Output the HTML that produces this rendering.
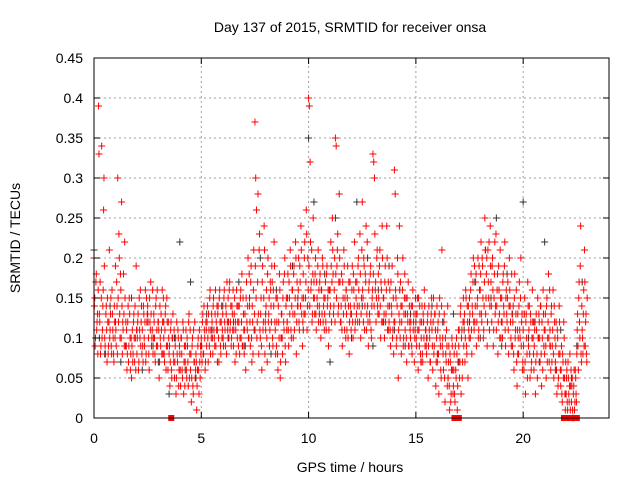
<!DOCTYPE html>
<html><head><meta charset="utf-8"><style>
body{margin:0;background:#fff;}
svg{display:block;font-family:"Liberation Sans",sans-serif;}
</style></head><body>
<svg id="chart" width="640" height="480">
<text x="350" y="32" text-anchor="middle" font-size="14">Day 137 of 2015, SRMTID for receiver onsa</text>
<text x="350" y="472" text-anchor="middle" font-size="14">GPS time / hours</text>
<text x="0" y="0" transform="translate(20,238) rotate(-90)" text-anchor="middle" font-size="14">SRMTID / TECUs</text>
<g id="grid"></g><g id="black"></g><g id="red"></g><g id="red2"></g><g id="axes"></g>
</svg>
<script>
const xTicks=[0,5,10,15,20];
const yTicks=[0,0.05,0.1,0.15,0.2,0.25,0.3,0.35,0.4,0.45];
const yTickLabels=["0","0.05","0.1","0.15","0.2","0.25","0.3","0.35","0.4","0.45"];
const redBinStart=[0,0.25,0.5,0.75,1,1.25,1.5,1.75,2,2.25,2.5,2.75,3,3.25,3.5,3.75,4,4.25,4.5,4.75,5,5.25,5.5,5.75,6,6.25,6.5,6.75,7,7.25,7.5,7.75,8,8.25,8.5,8.75,9,9.25,9.5,9.75,10,10.25,10.5,10.75,11,11.25,11.5,11.75,12,12.25,12.5,12.75,13,13.25,13.5,13.75,14,14.25,14.5,14.75,15,15.25,15.5,15.75,16,16.25,16.5,16.75,17,17.25,17.5,17.75,18,18.25,18.5,18.75,19,19.25,19.5,19.75,20,20.25,20.5,20.75,21,21.25,21.5,21.75,22,22.25,22.5,22.75];
const redVals=[[20,15,10,18,12,8,39],[13,17,9,34,11,16,30],[10,8,14,7,12,9,21],[11,15,8,13,10,7,12],[19,9,14,30,12,20,10],[16,27,8,11,13,22,9],[9,6,12,7,15,10,8],[5,11,8,13,7,10,19],[8,12,6,15,10,9,14],[11,7,13,9,16,8,12],[14,10,6,12,17,9,11],[8,13,10,7,15,11,9],[12,5,14,9,11,16,8],[10,7,13,6,15,9,12],[8,4,11,6,10,13,7],[5,9,3,12,7,10,6],[8,4,10,6,12,3,9],[7,11,5,9,4,13,8],[6,2,9,4,11,7,5],[8,1,6,10,3,7,9],[10,7,13,8,11,6,12],[9,14,7,11,15,8,10],[12,8,15,10,13,9,11],[11,14,7,16,9,12,10],[13,9,16,11,14,8,12],[15,10,17,12,9,14,11],[9,13,7,11,16,10,14],[12,8,15,10,18,9,13],[8,13,6,17,11,20,10],[14,9,19,7,12,16,11],[37,30,26,12,28,8,23],[10,15,6,19,12,24,8],[11,16,7,20,13,9,17],[14,19,10,16,22,12,8],[9,15,6,12,18,5,10],[13,8,17,11,20,7,15],[12,18,9,15,21,11,14],[16,10,19,13,22,8,17],[14,20,11,17,24,13,9],[18,13,22,15,26,11,20],[40,39,32,16,21,13,25],[17,13,20,11,15,19,12],[14,18,10,16,20,12,15],[13,17,11,19,15,9,16],[16,22,12,25,18,14,20],[35,34,19,23,14,28,17],[12,18,9,15,21,11,14],[16,11,19,14,8,17,13],[13,19,10,16,22,12,15],[17,12,20,14,23,10,15],[27,15,20,11,18,24,13],[14,9,17,12,19,10,15],[33,32,30,16,12,20,14],[18,13,21,10,16,24,12],[15,10,19,13,24,11,17],[12,16,9,14,19,11,8],[31,28,15,10,20,5,13],[12,17,8,14,20,10,15],[11,15,7,13,17,9,12],[10,14,8,16,12,7,11],[13,9,15,6,11,14,8],[10,14,7,12,16,9,11],[8,12,5,14,10,7,13],[11,6,15,9,13,4,10],[7,12,3,15,9,5,21],[10,6,13,2,8,11,4],[5,9,1,7,3,10,6],[4,8,2,6,10,1,7],[9,5,13,3,11,7,15],[12,7,16,9,14,5,11],[15,10,18,8,13,20,11],[12,17,9,14,20,11,16],[16,22,12,19,10,14,25],[13,18,9,21,15,11,24],[17,12,20,9,15,22,14],[11,16,8,19,13,21,10],[15,10,18,13,22,9,16],[12,17,8,20,14,10,18],[9,14,6,18,11,16,4],[13,8,17,10,20,12,6],[11,6,15,3,13,8,17],[9,14,5,12,7,16,10],[6,11,3,13,8,15,10],[12,7,14,4,10,16,9],[8,13,5,15,10,18,7],[11,6,14,9,16,5,12],[7,12,3,10,5,14,8],[4,9,2,7,12,5,1],[3,6,1,5,2,8,4],[2,5,0,4,1,6,3],[8,13,6,17,10,24,7],[11,8,16,21,9,13,7]];
const redVals2=[[14,9,17,11,13,16,33],[12,8,15,10,14,26,19],[9,13,11,15,8,12,10],[13,9,16,11,8,14,10],[11,17,8,15,23,13,18],[10,14,12,18,9,15,12],[11,8,14,9,13,6,10],[9,7,12,10,14,6,11],[10,13,7,11,16,12,8],[9,14,10,12,7,15,13],[12,8,15,11,13,10,16],[10,12,8,14,9,16,12],[11,7,10,13,8,12,15],[8,11,14,9,12,6,10],[9,7,12,5,10,8,11],[7,10,5,8,11,4,9],[6,10,8,5,11,7,4],[9,6,10,7,12,5,11],[8,5,10,3,7,12,6],[7,4,9,6,11,5,8],[9,12,8,14,10,7,11],[12,10,13,9,16,11,13],[10,14,11,9,16,12,14],[13,10,15,12,8,14,11],[10,15,12,9,13,17,11],[12,16,11,14,10,13,16],[11,15,12,8,14,12,9],[14,10,16,12,9,15,11],[11,9,15,12,14,10,18],[12,17,10,14,8,21,13],[19,15,10,17,13,21,11],[13,9,17,11,15,21,12],[14,10,18,12,15,11,16],[12,17,9,14,19,11,15],[12,8,14,10,16,7,13],[10,15,12,18,9,14,11],[15,11,17,13,19,10,16],[13,18,11,15,20,12,14],[16,12,19,14,21,15,12],[15,20,13,17,23,14,16],[19,14,22,17,12,18,15],[15,18,13,17,14,21,16],[17,12,16,13,19,14,11],[15,12,18,14,16,11,13],[14,19,17,21,13,16,12],[18,15,21,13,17,20,12],[14,11,17,13,19,15,10],[13,15,10,17,12,14,11],[16,12,18,14,11,17,13],[14,19,16,12,18,13,21],[16,12,19,14,17,11,22],[12,16,13,18,11,14,16],[18,14,23,17,15,21,13],[15,19,14,17,12,20,15],[13,17,12,16,20,14,11],[14,11,17,13,10,15,12],[12,16,9,14,18,11,24],[10,14,12,16,9,13,18],[13,10,15,12,9,14,11],[12,9,14,11,13,10,15],[10,13,11,15,9,12,7],[12,8,13,10,14,11,9],[10,13,9,11,7,12,15],[9,12,8,13,11,7,14],[11,8,13,10,6,14,9],[8,12,5,10,7,9,14],[7,4,8,2,6,9,3],[6,3,9,5,8,4,11],[11,7,14,10,5,12,9],[13,10,15,8,12,14,10],[13,16,11,14,17,12,19],[14,18,12,15,10,19,13],[18,13,20,15,11,17,21],[15,20,12,17,22,14,19],[14,19,16,11,18,13,23],[14,18,12,16,10,15,12],[12,17,14,19,11,15,13],[15,11,14,16,12,9,13],[12,8,15,10,13,7,11],[10,14,11,15,9,13,7],[9,13,7,12,10,5,14],[11,8,13,6,10,12,8],[9,12,7,11,5,10,13],[10,14,8,12,6,13,11],[11,9,14,7,12,10,16],[9,13,7,11,8,14,10],[9,6,11,4,8,12,6],[6,3,8,5,10,3,7],[5,2,7,3,4,1,6],[4,1,3,6,2,5,2],[11,9,15,12,19,8,14],[10,13,9,17,12,8,15]];
const blackBinStart=[0,0.5,1,1.5,2,2.5,3,3.5,4,4.5,5,5.5,6,6.5,7,7.5,8,8.5,9,9.5,10,10.5,11,11.5,12,12.5,13,13.5,14,14.5,15,15.5,16,16.5,17,17.5,18,18.5,19,19.5,20,20.5,21,21.5,22,22.5];
const blackVals=[[21,10],[8,14],[12,7],[9,15],[11,6],[13,9],[7,12],[3,10],[22,6],[17,5],[9,13],[11,7],[14,10],[12,17],[9,15],[11,20],[13,8],[16,10],[12,19],[15,11],[35,27],[13,18],[7,25],[12,16],[10,27],[14,20],[9,16],[12,19],[11,16],[9,13],[12,7],[10,14],[8,12],[5,13],[7,11],[12,17],[10,21],[15,25],[9,18],[13,8],[27,10],[12,7],[22,9],[6,11],[3,5],[9,17]];
const zeroTimes=[3.6,16.8,16.9,17.0,21.9,22.1,22.3,22.4,22.5];

const X0=94,X1=609,Y0=418,Y1=58;
const sx=h=>X0+h*(X1-X0)/24;
const sy=v=>Y0-v*(Y0-Y1)/0.45;
const NS="http://www.w3.org/2000/svg";
function mk(tag,attrs,parent){const e=document.createElementNS(NS,tag);for(const k in attrs)e.setAttribute(k,attrs[k]);parent.appendChild(e);return e;}
const grid=document.getElementById('grid'),axes=document.getElementById('axes');
yTicks.forEach((v,i)=>{
  const y=sy(v);
  if(i>0&&i<yTicks.length-1){const g=mk('line',{x1:X0,x2:X1,y1:y,y2:y,stroke:'#a0a0a0','stroke-dasharray':'2,3'},grid);
  
  }
  mk('line',{x1:X0,x2:X0+6,y1:y,y2:y,stroke:'#000'},axes);
  mk('line',{x1:X1,x2:X1-6,y1:y,y2:y,stroke:'#000'},axes);
  const t=mk('text',{x:X0-11,y:y+5,'text-anchor':'end','font-size':14},axes);t.textContent=yTickLabels[i];
  
  
});
xTicks.forEach(h=>{
  const x=sx(h);
  if(h>0){const g=mk('line',{x1:x,x2:x,y1:Y0,y2:Y1,stroke:'#a0a0a0','stroke-dasharray':'2,3'},grid);
  
  }
  mk('line',{x1:x,x2:x,y1:Y0,y2:Y0-6,stroke:'#000'},axes);
  mk('line',{x1:x,x2:x,y1:Y1,y2:Y1+6,stroke:'#000'},axes);
  const t=mk('text',{x:x,y:Y0+25,'text-anchor':'middle','font-size':14},axes);t.textContent=String(h);
  
  
});
const fr=mk('rect',{x:X0,y:Y1,width:X1-X0,height:Y0-Y1,fill:'none',stroke:'#000'},axes);


function plus(g,x,y,c){mk('path',{d:`M${x-3.5},${y}h7M${x},${y-3.5}v7`,stroke:c,'stroke-width':1},g);}
function drawSeries(id,starts,vals,width,offset,color,name){
  const g=document.getElementById(id);
  
  
  starts.forEach((s,i)=>{const n=vals[i].length;vals[i].forEach((v,j)=>{plus(g,sx(s+offset+width*j/n),sy(v/100),color);});});
}
drawSeries('black',blackBinStart,blackVals,0.5,0,'#333','black-series');
drawSeries('red',redBinStart,redVals,0.25,0,'#ff0000','red-series');
drawSeries('red2',redBinStart,redVals2,0.25,0.018,'#ff0000','red-series-extra');
const rg=document.getElementById('red');
zeroTimes.forEach(t=>{const r=mk('rect',{x:sx(t)-3,y:Y0-3,width:6,height:6,fill:'#ff0000'},rg);

});
</script>
</body></html>
